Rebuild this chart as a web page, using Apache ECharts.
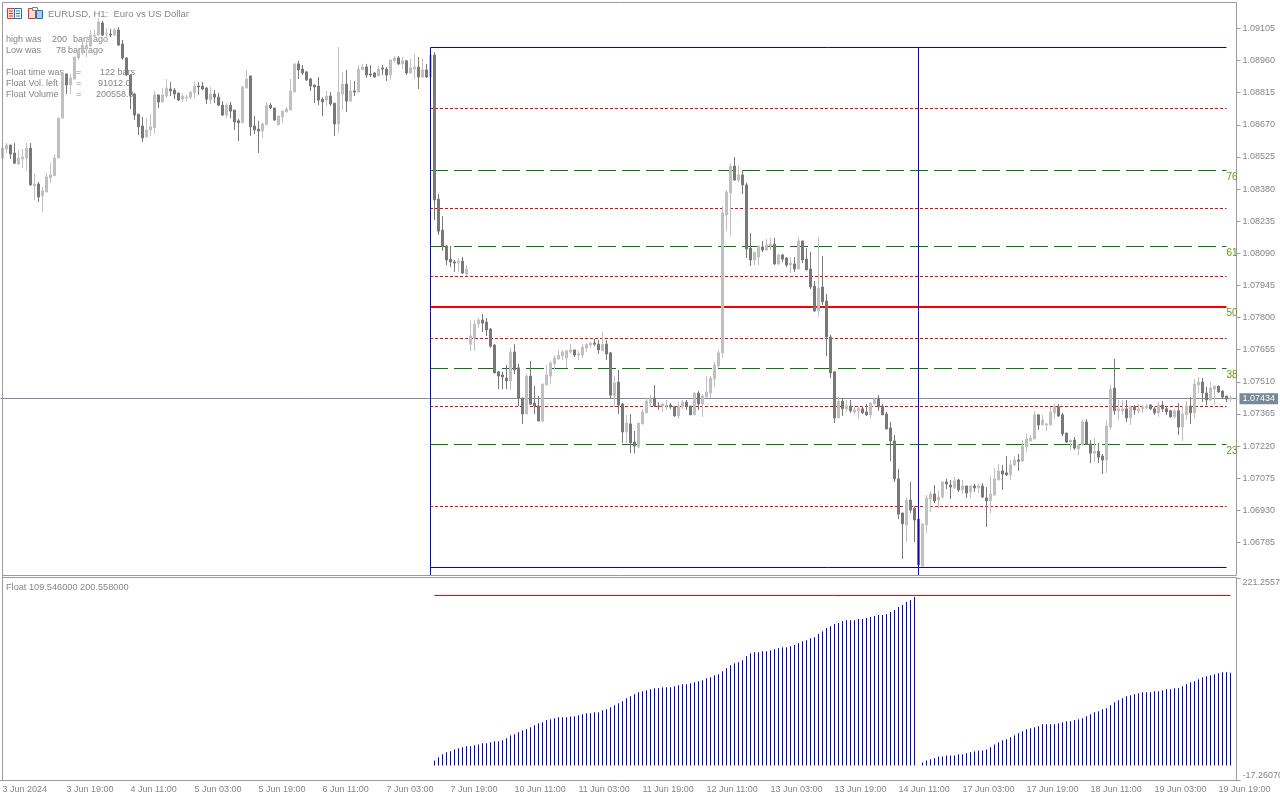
<!DOCTYPE html>
<html><head><meta charset="utf-8"><style>html,body{margin:0;padding:0;background:#fff}#c{width:1280px;height:800px}</style>
<script src="https://cdn.jsdelivr.net/npm/echarts@6/dist/echarts.min.js"></script></head><body><div id="c"></div>
<script>
// prices as points (1e-5) above 1.00000
const open=[8518,8559,8577,8541,8491,8514,8518,8563,8391,8400,
8346,8364,8427,8437,8518,8699,8899,8849,8876,8971,
8998,9012,9026,9071,9075,9130,9080,9080,9075,9098,
9035,8971,8894,8808,8717,8663,8613,8645,8654,8804,
8772,8799,8831,8826,8813,8785,8790,8794,8813,8844,
8844,8835,8781,8808,8794,8758,8713,8758,8736,8686,
8677,8835,8890,8663,8649,8640,8668,8758,8745,8668,
8704,8727,8736,8817,8944,8921,8908,8876,8849,8844,
8785,8781,8799,8767,8672,8808,8853,8776,8822,8817,
8917,8930,8899,8903,8890,8926,8921,8894,8958,8971,
8944,8958,8903,8921,8930,8885,8917,8885,8985,8332,
8192,8119,8060,8047,8042,8051,7993,7675,7703,7766,
7784,7775,7743,7671,7549,7535,7521,7508,7639,7567,
7431,7358,7530,7408,7394,7326,7490,7530,7585,7607,
7621,7612,7639,7648,7625,7625,7657,7671,7680,7675,
7644,7675,7635,7440,7503,7404,7277,7313,7231,7209,
7313,7363,7408,7431,7394,7394,7394,7399,7390,7349,
7390,7412,7394,7354,7453,7404,7435,7453,7517,7576,
7635,8260,8360,8482,8418,8441,8396,8110,8056,8069,
8115,8101,8119,8128,8038,8079,8065,8033,8038,8015,
8142,8060,8015,7938,7825,7934,7870,7707,7549,7340,
7417,7381,7394,7367,7372,7381,7367,7354,7404,7426,
7394,7358,7295,7236,7064,6910,6855,6968,6932,6882,
6669,6855,6973,6996,6968,6982,7050,7036,7023,7059,
7014,7032,7005,7032,7023,7032,6978,6964,6991,7059,
7100,7091,7082,7127,7150,7145,7209,7236,7245,7354,
7308,7308,7308,7363,7390,7354,7272,7231,7240,7200,
7218,7322,7222,7181,7190,7168,7150,7299,7476,7372,
7372,7381,7340,7390,7372,7381,7385,7399,7381,7363,
7399,7381,7372,7345,7372,7299,7354,7394,7363,7490,
7503,7453,7422,7471,7485,7462,7440,7426];
const close=[8563,8577,8536,8495,8518,8523,8563,8396,8400,8341,
8369,8432,8441,8518,8699,8903,8849,8881,8976,8998,
9030,9030,9075,9075,9134,9075,9084,9075,9098,9030,
8971,8894,8804,8713,8659,8609,8645,8659,8804,8772,
8804,8835,8822,8808,8781,8799,8794,8817,8844,8840,
8831,8785,8808,8794,8758,8713,8758,8731,8681,8677,
8840,8876,8659,8645,8640,8672,8758,8745,8690,8708,
8731,8740,8822,8944,8917,8903,8872,8844,8840,8781,
8772,8799,8763,8672,8817,8853,8776,8822,8817,8921,
8930,8894,8894,8885,8921,8921,8894,8962,8971,8944,
8958,8903,8926,8930,8885,8917,8885,8985,8328,8187,
8119,8056,8047,8042,8051,7997,8015,7712,7766,7784,
7770,7739,7666,7544,7530,7526,7508,7639,7558,7431,
7358,7530,7403,7394,7326,7494,7535,7589,7612,7625,
7639,7644,7648,7625,7630,7662,7675,7680,7675,7648,
7675,7630,7444,7499,7399,7277,7317,7227,7213,7317,
7367,7417,7426,7394,7390,7404,7399,7390,7349,7390,
7412,7390,7354,7453,7404,7440,7458,7521,7580,7635,
8269,8364,8482,8418,8441,8396,8106,8056,8092,8119,
8101,8124,8128,8038,8079,8060,8033,8042,8015,8142,
8056,8011,7934,7825,7929,7866,7707,7544,7340,7417,
7381,7394,7372,7376,7381,7363,7354,7408,7426,7390,
7354,7290,7236,7064,6905,6860,6968,6923,6878,6674,
6860,6978,6996,6964,6982,7050,7041,7027,7055,7014,
7032,7000,7032,7023,7032,6982,6964,6996,7064,7100,
7086,7082,7127,7150,7145,7213,7245,7249,7354,7308,
7331,7313,7367,7390,7349,7268,7231,7240,7204,7218,
7322,7222,7181,7190,7163,7150,7304,7471,7372,7381,
7381,7340,7390,7376,7381,7390,7394,7381,7363,7399,
7381,7367,7345,7372,7299,7358,7394,7363,7494,7503,
7453,7422,7476,7485,7458,7435,7426,7434];
const low=[8518,8541,8514,8491,8491,8473,8459,8391,8328,8319,
8273,8364,8405,8437,8518,8695,8808,8808,8872,8962,
8985,8976,9021,9062,9075,9071,9066,9066,9071,9026,
8962,8890,8740,8690,8622,8591,8613,8618,8627,8745,
8772,8790,8799,8785,8776,8772,8776,8785,8790,8804,
8826,8763,8763,8767,8754,8708,8699,8699,8645,8595,
8677,8835,8618,8627,8541,8609,8668,8740,8686,8668,
8677,8727,8736,8817,8876,8894,8867,8822,8767,8758,
8708,8754,8754,8618,8631,8736,8727,8776,8799,8817,
8917,8881,8885,8881,8890,8894,8867,8872,8949,8939,
8921,8894,8899,8876,8831,8881,8881,8885,8237,8169,
8097,8033,8024,8002,8002,7993,7983,7644,7644,7748,
7730,7712,7657,7544,7471,7471,7471,7467,7539,7394,
7313,7358,7399,7358,7326,7322,7490,7494,7558,7603,
7603,7567,7630,7616,7603,7612,7639,7657,7666,7630,
7644,7603,7426,7390,7358,7227,7227,7181,7181,7204,
7313,7363,7390,7390,7376,7367,7376,7381,7345,7336,
7381,7376,7354,7354,7376,7345,7435,7431,7481,7567,
7612,8187,8165,8414,8409,8355,8065,8029,8033,8033,
8092,8097,8101,8033,8033,8047,8024,7997,8002,8015,
8042,8011,7925,7820,7798,7852,7621,7521,7317,7340,
7349,7367,7363,7358,7336,7358,7349,7340,7399,7372,
7354,7290,7145,7050,6882,6701,6778,6910,6778,6669,
6669,6819,6914,6955,6932,6973,7018,6973,7018,7005,
6996,6978,6978,7005,7000,6978,6846,6910,6987,7059,
7014,7077,7059,7122,7100,7141,7186,7236,7245,7286,
7308,7281,7308,7336,7345,7258,7227,7195,7195,7172,
7218,7218,7136,7141,7136,7086,7091,7286,7354,7331,
7354,7322,7308,7354,7363,7363,7381,7376,7354,7345,
7367,7354,7340,7336,7263,7236,7331,7313,7340,7453,
7413,7399,7417,7399,7453,7426,7413,7413];
const high=[8563,8586,8577,8586,8554,8559,8586,8586,8446,8409,
8387,8450,8495,8536,8699,8903,8899,8899,8976,9012,
9044,9053,9098,9098,9152,9139,9107,9103,9107,9112,
9053,8976,8899,8813,8717,8704,8699,8717,8822,8804,
8835,8876,8862,8835,8813,8813,8804,8822,8862,8862,
8862,8840,8840,8826,8813,8776,8767,8772,8736,8695,
8844,8917,8890,8708,8686,8677,8772,8767,8745,8708,
8731,8749,8876,8944,8958,8939,8912,8881,8849,8885,
8794,8822,8817,8767,9021,8908,8917,8872,8867,8939,
8944,8944,8939,8908,8935,8939,8930,8962,8980,8980,
8976,8962,8967,8989,8976,8967,8944,8994,8998,8355,
8255,8124,8119,8056,8065,8069,8033,7780,7784,7793,
7811,7793,7748,7675,7553,7549,7580,7657,7675,7585,
7431,7539,7598,7485,7440,7494,7580,7598,7625,7648,
7648,7648,7675,7648,7644,7675,7680,7684,7698,7693,
7730,7693,7639,7530,7558,7408,7354,7358,7281,7317,
7381,7431,7444,7490,7412,7408,7422,7408,7394,7412,
7422,7422,7394,7458,7462,7449,7530,7530,7594,7648,
8301,8373,8495,8523,8482,8464,8405,8178,8092,8124,
8142,8151,8156,8156,8083,8083,8069,8069,8069,8160,
8142,8110,8092,7961,8160,8074,7902,7716,7549,7435,
7431,7422,7422,7390,7390,7394,7404,7412,7431,7444,
7404,7367,7322,7263,7109,6910,6982,7050,6941,6882,
6860,6991,7009,7036,7009,7050,7064,7059,7073,7064,
7059,7032,7036,7041,7041,7046,7027,7077,7113,7132,
7127,7168,7150,7168,7177,7240,7268,7263,7372,7354,
7354,7317,7390,7404,7404,7363,7272,7240,7254,7222,
7331,7336,7240,7249,7227,7177,7331,7490,7607,7422,
7422,7422,7394,7399,7404,7399,7404,7404,7390,7412,
7417,7394,7376,7381,7408,7394,7417,7435,7517,7526,
7521,7481,7503,7485,7485,7467,7440,7444];
// Float indicator histogram, thousands
const floatFirst=[5.9,9.5,13.0,15.4,16.6,18.9,20.1,21.3,22.5,22.5,
23.7,24.8,26.0,26.0,27.2,28.4,28.4,29.6,31.9,35.5,
36.7,39.0,41.4,42.6,45.0,47.3,49.7,50.9,53.2,54.4,
55.6,56.8,56.8,56.8,57.6,58.0,59.2,60.3,61.5,61.5,
62.7,62.7,65.1,66.2,68.6,71.0,73.3,75.7,79.3,81.6,
84.0,86.4,87.5,88.7,89.9,91.1,91.1,92.3,92.3,92.3,
93.5,94.6,95.8,95.8,97.0,98.2,99.4,100.6,102.9,104.1,
106.5,107.7,111.2,114.8,118.3,120.7,121.8,124.2,128.9,132.5,
133.7,133.7,134.9,134.9,136.0,137.2,138.4,139.6,139.6,140.8,
142.0,144.3,146.7,147.9,150.2,151.4,155.0,158.5,162.1,164.4,
166.8,168.0,170.4,171.5,171.5,171.5,
172.7,172.7,173.9,175.1,176.3,177.5,177.5,178.6,181.0,183.4,186.9,189.3,192.8,195.2,198.7];
const floatSecond=[3.5,5.9,7.1,8.3,10.6,10.6,11.8,11.8,11.8,13.0,
13.0,14.2,15.4,16.6,17.7,17.7,18.9,21.3,24.8,27.2,
29.6,30.8,33.1,35.5,37.9,40.2,42.6,43.8,45.0,46.1,
48.5,48.5,48.5,48.5,49.7,50.9,52.1,52.1,53.2,54.4,
55.6,58.0,60.3,62.7,63.9,66.2,67.4,71.0,74.5,76.9,
79.3,81.6,82.8,84.0,85.2,86.4,86.4,86.4,87.5,87.5,
88.7,89.9,89.9,91.1,91.1,93.5,95.8,98.2,99.4,101.7,
104.1,105.3,106.5,107.7,108.8,110.0,110.0,109.5];
const floatVolume=200.558;
const tickLabels=['3 Jun 2024','3 Jun 19:00','4 Jun 11:00','5 Jun 03:00','5 Jun 19:00','6 Jun 11:00','7 Jun 03:00','7 Jun 19:00','10 Jun 11:00','11 Jun 03:00','11 Jun 19:00','12 Jun 11:00','13 Jun 03:00','13 Jun 19:00','14 Jun 11:00','17 Jun 03:00','17 Jun 19:00','18 Jun 11:00','19 Jun 03:00','19 Jun 19:00'];
const priceTicks=[1.09105,1.0896,1.08815,1.0867,1.08525,1.0838,1.08235,1.0809,1.07945,1.078,1.07655,1.0751,1.07365,1.0722,1.07075,1.0693,1.06785];
const lastPrice=1.07434;
const boxTop=1.09019, boxBottom=1.06672;
const redLevels=[1.08744,1.08293,1.07986,1.07706,1.07399,1.06947];
const greenLevels=[1.08464,1.08121,1.0757,1.07227];
const midLevel=1.0785;
const levelNames=['76','61','38','23','50'];
const subMin=-17.2607, subMax=221.2557;
const priceMax=1.0922, priceMin=1.06638;
const firstBar=107, splitBar=229, lastLevelBar=306, firstFloat=108;

if([open,close,low,high].some(a=>a.length!==308)||floatFirst.length!==121||floatSecond.length!==78) throw new Error('len '+[open.length,close.length,low.length,high.length,floatFirst.length,floatSecond.length]);

const toPrice=v=>+(1+(9105+(v-9105)*0.9962)/1e5).toFixed(5);
const candles=open.map((o,i)=>[toPrice(o),toPrice(close[i]),toPrice(low[i]),toPrice(high[i])]);
const categories=Array.from({length:309},(_,i)=>i%16===0?(tickLabels[i/16]||''):'');
const floatData=new Array(firstFloat).fill(null).concat(floatFirst,[null],floatSecond);

const FONT='Liberation Sans', TXT='#85858c', AX='#9a9aa0', FS=9;
const hl=(v,style)=>[{coord:[firstBar,v],lineStyle:style},{coord:[lastLevelBar,v]}];
const RED={color:'#ff0000',width:1,type:[3,2],dashOffset:0.5}, GREEN={color:'#008000',width:1,type:[18,6],dashOffset:0.5};
const BLUE={color:'#0000ee',width:1,type:'solid'};

const textRows=[
 ['high was',6,40],['200',52,40],['bars ago',73,40],
 ['Low was',6,51],['78',56,51],['bars ago',68,51],
 ['Float time was',6,73],['=',76,73],['122 bars',100,73],
 ['Float Vol. left',6,84],['=',76,84],['91012.0',98,84],
 ['Float Volume',6,95],['=',76,95],['200558.0',96,95]
];
const txt=(s,x,y,fs)=>({type:'text',x,y,z:0,silent:true,style:{text:s,x:0,y:0,fill:TXT,font:`${fs||FS}px "${FONT}"`,textVerticalAlign:'middle'}});
const ln=(x1,y1,x2,y2,c,w)=>({type:'line',z:10,silent:true,shape:{x1,y1,x2,y2},style:{stroke:c||AX,lineWidth:w||1}});
const rc=(x,y,w,h,s,f)=>({type:'rect',z:10,silent:true,shape:{x,y,width:w,height:h},style:{stroke:s,fill:f||'#fff',lineWidth:1}});

const chart=echarts.init(document.getElementById('c'),null,{renderer:'canvas'});
chart.setOption({
 animation:false,backgroundColor:'#fff',
 grid:[{left:0.5,top:3,width:1236,height:572,containLabel:false,outerBoundsMode:'none'},{left:0.5,top:578,width:1236,height:202,containLabel:false,outerBoundsMode:'none'}],
 xAxis:[
  {type:'category',gridIndex:0,data:categories,show:false,boundaryGap:true},
  {type:'category',gridIndex:1,data:categories,boundaryGap:true,
   axisLine:{onZero:false,lineStyle:{color:AX}},
   axisTick:{length:3,interval:15,alignWithLabel:true,lineStyle:{color:AX}},
   axisLabel:{interval:15,color:TXT,fontFamily:FONT,fontSize:FS,align:'left',margin:5,hideOverlap:false,showMinLabel:true,showMaxLabel:true},
   splitLine:{show:false}}],
 yAxis:[
  {type:'value',gridIndex:0,position:'right',min:priceMin,max:priceMax,scale:true,
   axisLine:{show:true,lineStyle:{color:AX}},
   axisTick:{show:true,length:4,customValues:priceTicks,lineStyle:{color:AX}},
   axisLabel:{customValues:priceTicks,color:TXT,fontFamily:FONT,fontSize:FS,margin:6,formatter:v=>v.toFixed(5)},
   splitLine:{show:false}},
  {type:'value',gridIndex:1,position:'right',min:subMin,max:subMax,
   axisLine:{show:true,onZero:false,lineStyle:{color:AX}},
   axisTick:{show:true,length:4,customValues:[subMin,subMax],lineStyle:{color:AX}},
   axisLabel:{customValues:[subMin,subMax],color:TXT,fontFamily:FONT,fontSize:FS,margin:6,
     verticalAlignMinLabel:'bottom',verticalAlignMaxLabel:'top',showMinLabel:true,showMaxLabel:true,
     formatter:v=>v>0?'221.2557':'-17.26070'},
   splitLine:{show:false}}],
 graphic:{elements:[
  ...textRows.map(r=>txt(...r)),
  txt('EURUSD, H1:  Euro vs US Dollar',48,14,9.5),
  txt('Float 109.546000 200.558000',6,587,9.2),
  ln(2.5,2.5,1236.5,2.5),ln(2.5,2.5,2.5,780.5),ln(2.5,575.5,1236.5,575.5),ln(2.5,577.5,1236.5,577.5),
  rc(7.5,8.5,7,10,'#e03030','#fde0dc'),rc(14.5,8.5,7,10,'#2070b8','#ffffff'),
  ln(9,11,13,11,'#e03030'),ln(9,13.5,13,13.5,'#e03030'),ln(9,16,13,16,'#e03030'),
  ln(16,11,20,11,'#2070b8'),ln(16,13.5,20,13.5,'#2070b8'),ln(16,16,20,16,'#2070b8'),
  rc(28.5,8.5,7,10,'#e03030','#fde0dc'),rc(36.5,10.5,6,8,'#2070b8','#9fd0f0'),rc(32.5,7.5,5,3,'#808080','#ffffff')
 ]},
 series:[
  {type:'line',name:'levels',xAxisIndex:0,yAxisIndex:0,data:[],z:1,
   markLine:{silent:true,symbol:'none',z:1,animation:false,label:{show:false},precision:5,data:[
    ...redLevels.map(v=>hl(v,RED)),
    ...greenLevels.map(v=>hl(v,GREEN)),
    hl(midLevel,{color:'#ff0000',width:2,type:'solid'}),
    hl(boxTop,BLUE),hl(boxBottom,BLUE),
    {yAxis:lastPrice,lineStyle:{color:'#808a96',width:1,type:'solid'},
     label:{show:true,position:'end',distance:3,formatter:lastPrice.toFixed(5),color:'#fff',backgroundColor:'#778899',
       fontFamily:FONT,fontSize:FS,padding:[1,3,1,3]}}
   ]}},
  {type:'candlestick',name:'EURUSD',xAxisIndex:0,yAxisIndex:0,z:2,barWidth:3,data:candles,
   itemStyle:{color:'#c0c0c0',color0:'#787878',borderColor:'#c0c0c0',borderColor0:'#787878',borderWidth:1},
   markPoint:{silent:true,symbol:'circle',symbolSize:0,z:3,data:
    [...greenLevels,midLevel].map((v,i)=>({coord:[lastLevelBar,v],label:{show:true,position:'right',distance:0,offset:[0,7],
       formatter:levelNames[i],color:'#5f9a10',fontFamily:FONT,fontSize:FS+1}}))},
   markLine:{silent:true,symbol:'none',z:5,animation:false,label:{show:false},precision:5,data:
    [firstBar,splitBar].map(b=>[{coord:[b,boxTop],lineStyle:{color:'#0000ff',width:1,type:'solid'}},{coord:[b,priceMin]}])}},
  {type:'bar',name:'Float',xAxisIndex:1,yAxisIndex:1,data:floatData,barWidth:1,itemStyle:{color:'#0000ee'},z:2,
   markLine:{silent:true,symbol:'none',animation:false,label:{show:false},data:[
    [{coord:[firstFloat,floatVolume],lineStyle:{color:'#ff0000',width:1,type:'solid'}},{coord:[307,floatVolume]}]]}}
 ]
});
</script></body></html>
